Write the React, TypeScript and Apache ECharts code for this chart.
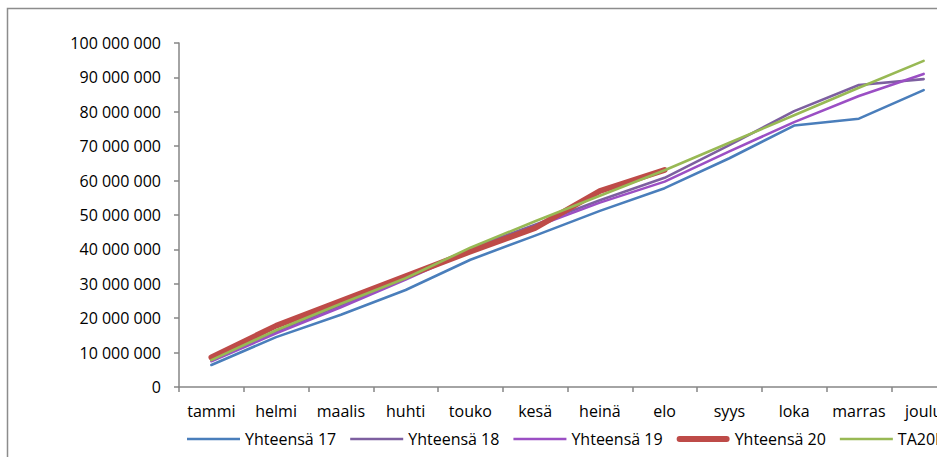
import React, { useEffect, useRef } from "react";
import * as echarts from "echarts";

const months = ["tammi", "helmi", "maalis", "huhti", "touko", "kesä", "heinä", "elo", "syys", "loka", "marras", "joulu"];
const seriesNames = ["Yhteensä 17", "Yhteensä 18", "Yhteensä 19", "Yhteensä 20", "TA20K"];
const yht17 = [6400000, 14500000, 21000000, 28200000, 37000000, 44000000, 51200000, 57800000, 66500000, 76000000, 78000000, 86300000];
const yht18 = [8000000, 16200000, 23800000, 31600000, 40200000, 47200000, 54300000, 60800000, 70300000, 80200000, 87800000, 89500000];
const yht19 = [7500000, 15600000, 23200000, 31200000, 39700000, 46600000, 53600000, 59700000, 68500000, 77000000, 84600000, 91000000];
const yht20 = [8600000, 17800000, 25000000, 32200000, 39400000, 46200000, 57000000, 63100000];
const ta20k = [7800000, 16500000, 24200000, 31600000, 40500000, 48200000, 55600000, 63000000, 71000000, 79000000, 87000000, 94800000];
const yTicks = { min: 0, max: 100000000, interval: 10000000 };

const colors = ["#4a7ebb", "#7d5fa0", "#9b4fc4", "#be4b48", "#98b954"];
const widths = [2.6, 2.6, 2.6, 5.8, 2.6];
const FONT = "'Open Sans', sans-serif";

function fmt(v: number): string {
  return String(Math.round(v)).replace(/\B(?=(\d{3})+(?!\d))/g, " ");
}

function lineIcon(thick: number): string {
  const h = 14;
  const y0 = (h - thick) / 2;
  const y1 = y0 + thick;
  const r = thick / 2;
  if (thick > 4) {
    return `path://M0,0L0.01,0L0.01,0.01ZM0,${h}L0.01,${h}L0.01,${h - 0.01}ZM${r},${y0}L${53 - r},${y0}A${r},${r} 0 0 1 ${53 - r},${y1}L${r},${y1}A${r},${r} 0 0 1 ${r},${y0}Z`;
  }
  return `path://M0,0L0.01,0L0.01,0.01ZM0,${h}L0.01,${h}L0.01,${h - 0.01}ZM0,${y0}L53,${y0}L53,${y1}L0,${y1}Z`;
}

export default function App() {
  const ref = useRef<HTMLDivElement>(null);
  useEffect(() => {
    if (!ref.current) return;
    const chart = echarts.init(ref.current, undefined, { renderer: "svg" });
    const data = [yht17, yht18, yht19, yht20, ta20k];
    chart.setOption({
      animation: false,
      backgroundColor: "#ffffff",
      textStyle: { fontFamily: FONT },
      graphic: [
        {
          type: "rect",
          z: -10,
          shape: { x: 7.5, y: 8.5, width: 1100, height: 600 },
          style: { fill: "none", stroke: "#8c8c8c", lineWidth: 1.5 },
        },
      ],
      grid: { left: 179, top: 43, bottom: 70, right: 44, containLabel: false },
      legend: {
        left: 182,
        top: 426,
        itemWidth: 53,
        itemHeight: 14,
        itemGap: 14,
        textStyle: { fontFamily: FONT, fontSize: 16, color: "#000" },
        data: seriesNames.map((n, i) => ({
          name: n,
          icon: lineIcon(i === 3 ? 6 : 2.6),
          itemStyle: { color: colors[i], borderWidth: 0 },
        })),
      },
      xAxis: {
        type: "category",
        data: months,
        boundaryGap: true,
        axisLine: { lineStyle: { color: "#868686", width: 1.5 } },
        axisTick: { show: true, length: 5, lineStyle: { color: "#868686", width: 1.5 } },
        axisLabel: { color: "#000", fontSize: 16, fontFamily: FONT, margin: 16, interval: 0 },
        splitLine: { show: false },
      },
      yAxis: {
        type: "value",
        min: yTicks.min,
        max: yTicks.max,
        interval: yTicks.interval,
        axisLine: { show: true, lineStyle: { color: "#868686", width: 1.5 } },
        axisTick: { show: true, length: 5, lineStyle: { color: "#868686", width: 1.5 } },
        axisLabel: { color: "#000", fontSize: 16, fontFamily: FONT, margin: 18, formatter: (v: number) => fmt(v) },
        splitLine: { show: false },
      },
      series: seriesNames.map((name, i) => ({
        name,
        type: "line",
        data: data[i],
        symbol: "none",
        showSymbol: false,
        color: colors[i],
        itemStyle: { color: colors[i] },
        lineStyle: { color: colors[i], width: widths[i], cap: "round", join: "round" },
      })),
    });
    return () => chart.dispose();
  }, []);
  return (
    <div style={{ position: "absolute", left: 0, top: 0, width: 937, height: 457, overflow: "hidden", background: "#fff" }}>
      <div ref={ref} style={{ position: "absolute", left: 0, top: 0, width: 1000, height: 457 }} />
    </div>
  );
}
